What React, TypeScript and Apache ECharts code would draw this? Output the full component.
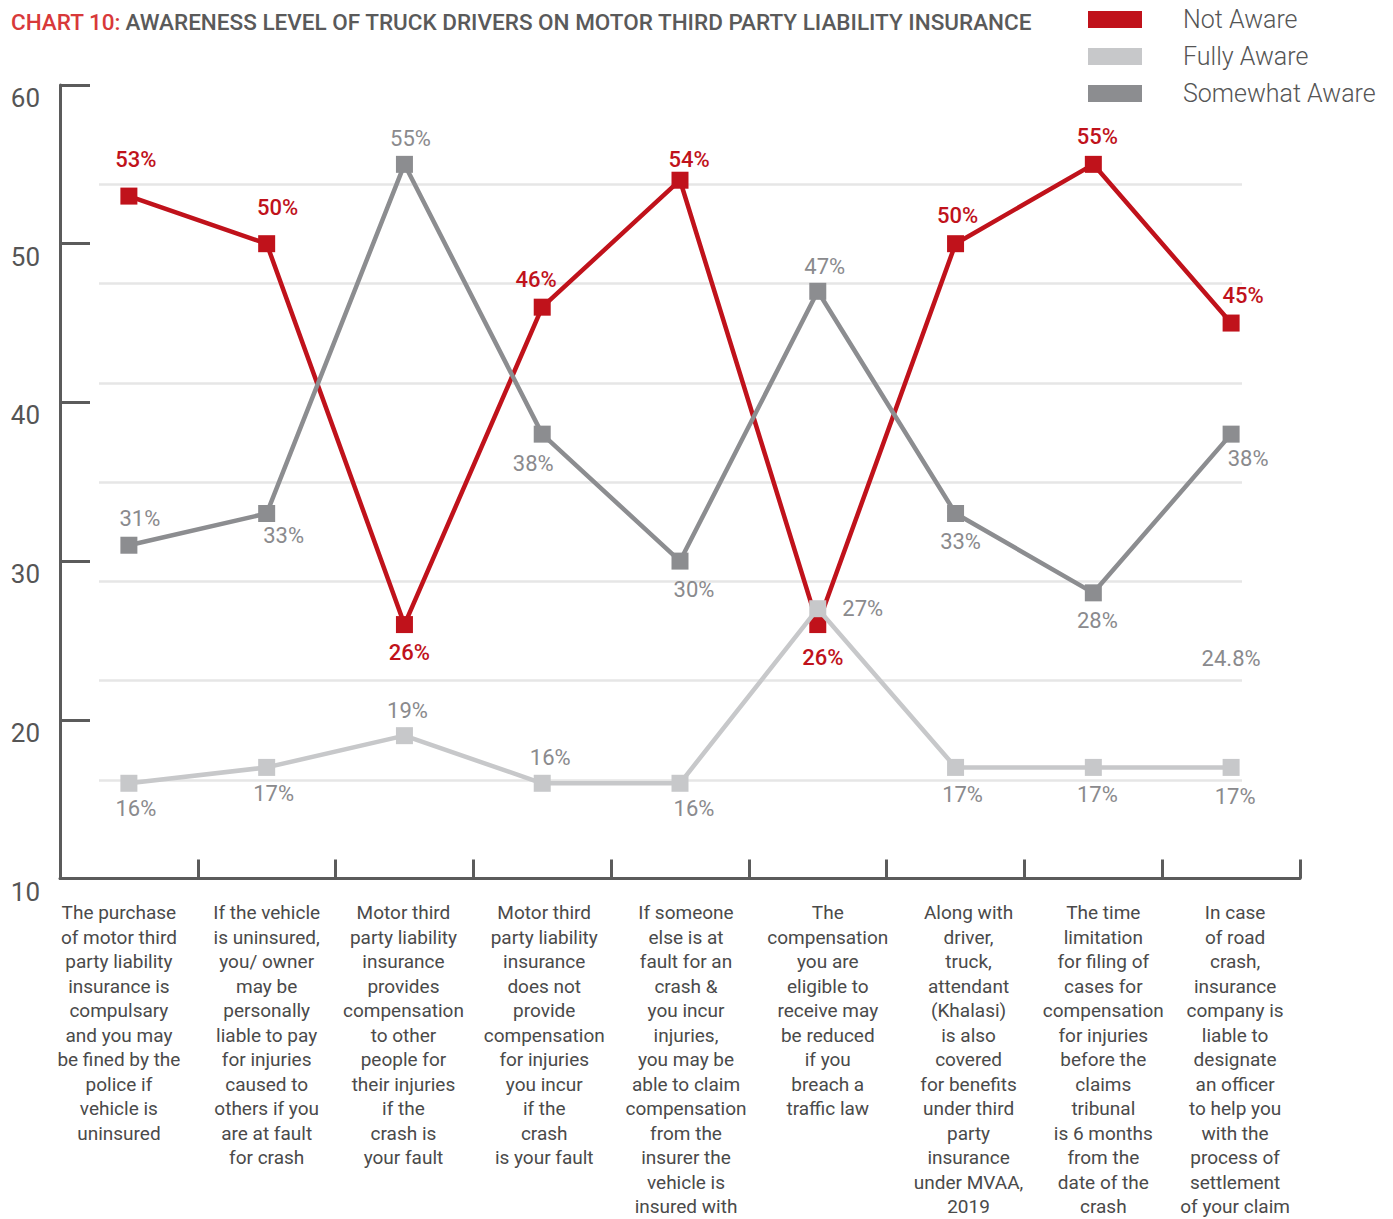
import React, { useEffect, useRef } from "react";
import * as echarts from "echarts";

const categories = [
  "The purchase\nof motor third\nparty liability\ninsurance is\ncompulsary\nand you may\nbe fined by the\npolice if\nvehicle is\nuninsured",
  "If the vehicle\nis uninsured,\nyou/ owner\nmay be\npersonally\nliable to pay\nfor injuries\ncaused to\nothers if you\nare at fault\nfor crash",
  "Motor third\nparty liability\ninsurance\nprovides\ncompensation\nto other\npeople for\ntheir injuries\nif the\ncrash is\nyour fault",
  "Motor third\nparty liability\ninsurance\ndoes not\nprovide\ncompensation\nfor injuries\nyou incur\nif the\ncrash\nis your fault",
  "If someone\nelse is at\nfault for an\ncrash &\nyou incur\ninjuries,\nyou may be\nable to claim\ncompensation\nfrom the\ninsurer the\nvehicle is\ninsured with",
  "The\ncompensation\nyou are\neligible to\nreceive may\nbe reduced\nif you\nbreach a\ntraffic law",
  "Along with\ndriver,\ntruck,\nattendant\n(Khalasi)\nis also\ncovered\nfor benefits\nunder third\nparty\ninsurance\nunder MVAA,\n2019",
  "The time\nlimitation\nfor filing of\ncases for\ncompensation\nfor injuries\nbefore the\nclaims\ntribunal\nis 6 months\nfrom the\ndate of the\ncrash",
  "In case\nof road\ncrash,\ninsurance\ncompany is\nliable to\ndesignate\nan officer\nto help you\nwith the\nprocess of\nsettlement\nof your claim",
];

const seriesNames = ["Not Aware", "Fully Aware", "Somewhat Aware"];
const notAware = [53, 50, 26, 46, 54, 26, 50, 55, 45];
const fullyAware = [16, 17, 19, 16, 16, 27, 17, 17, 17];
const somewhatAware = [31, 33, 55, 38, 30, 47, 33, 28, 38];

// floating note label near the last category
const extraNoteText = "24.8%";
const extraNoteCategory = 8;
const extraNoteValue = 23.85;

const yMin = 10;
const yMax = 60;
const yInterval = 10;

const titleLead = "CHART 10:";
const titleRest = "AWARENESS LEVEL OF TRUCK DRIVERS ON MOTOR THIRD PARTY LIABILITY INSURANCE";

// label placement (offset from point centre), layout only
const notAwareOffsets = [
  [7, -37], [11, -36], [5, 28], [-6, -28], [9, -21], [5, 33], [2, -28], [4, -28], [12, -28],
];
const fullyOffsets = [
  [7, 25], [7, 26], [3, -25], [8, -26], [14, 25], [45, 0], [7, 27], [4, 27], [4, 29],
];
const somewhatOffsets = [
  [11, -27], [17, 22], [6, -26], [-9, 29], [14, 28], [7, -25], [5, 28], [4, 28], [17, 24],
];
// horizontal shift of each category label block, layout only
const categoryLabelShift = [-10, 0, -1, 2, 6, 10, 13, 10, 4];

const RED = "#c0121b";
const LIGHT = "#c7c8ca";
const DARK = "#8c8d90";
const AXIS = "#5b5b5b";
const LABEL_GRAY = "#8a8a8d";
const FONT = "Roboto, 'Noto Sans', sans-serif";

function buildData(vals: number[], offsets: number[][]) {
  return vals.map((v, i) => ({ value: v, label: { offset: offsets[i] } }));
}

function lineSeries(name: string, vals: number[], offsets: number[][], color: string, labelColor: string, weight: number, z: number, extra: any = {}) {
  return {
    name,
    type: "line",
    data: buildData(vals, offsets),
    symbol: "rect",
    symbolSize: 17,
    z,
    lineStyle: { width: 4.5, color },
    itemStyle: { color },
    label: {
      show: true,
      position: "inside",
      formatter: "{c}%",
      color: labelColor,
      fontSize: 22,
      fontWeight: weight,
      fontFamily: FONT,
    },
    emphasis: { disabled: true },
    ...extra,
  };
}

const catRich: any = {};
categoryLabelShift.forEach((s, i) => {
  catRich["c" + i] = {
    fontSize: 19,
    lineHeight: 24.5,
    color: "#4a4a4a",
    fontFamily: FONT,
    padding: s >= 0 ? [0, 0, 0, 2 * s] : [0, -2 * s, 0, 0],
  };
});

export default function App() {
  const ref = useRef<HTMLDivElement>(null);

  useEffect(() => {
    if (!ref.current) return;
    const chart = echarts.init(ref.current, undefined, { renderer: "svg" });
    const option: any = {
      animation: false,
      backgroundColor: "#ffffff",
      textStyle: { fontFamily: FONT },
      title: {
        text: `{a|${titleLead}} {b|${titleRest}}`,
        left: 6,
        top: 5,
        textStyle: {
          rich: {
            a: { color: "#d8393a", fontSize: 22.5, fontWeight: 500, fontFamily: FONT },
            b: { color: "#5a5a5a", fontSize: 22.5, fontWeight: 500, fontFamily: FONT },
          },
        },
      },
      legend: {
        data: seriesNames,
        orient: "vertical",
        left: 1083,
        top: 2,
        itemWidth: 54,
        itemHeight: 17,
        itemGap: 12,
        icon: "rect",
        selectedMode: false,
        textStyle: {
          fontSize: 25,
          fontWeight: 300,
          color: "#555555",
          fontFamily: FONT,
          lineHeight: 25,
          padding: [0, 0, 0, 36],
        },
      },
      grid: [
        { left: 60, right: 93, top: 85, bottom: 340 },
        { left: 99, right: 151, top: 85, bottom: 340 },
      ],
      xAxis: [
        {
          type: "category",
          data: categories,
          gridIndex: 0,
          boundaryGap: true,
          axisLine: { lineStyle: { color: AXIS, width: 3 } },
          axisTick: { show: true, inside: true, length: 19, lineStyle: { color: AXIS, width: 3 } },
          axisLabel: {
            interval: 0,
            margin: 22,
            fontSize: 19,
            lineHeight: 24.5,
            color: "#4a4a4a",
            fontFamily: FONT,
            verticalAlign: "top",
            formatter: (value: string, index: number) =>
              value
                .split("\n")
                .map((l) => `{c${index}|${l}}`)
                .join("\n"),
            rich: catRich,
          },
          splitLine: { show: false },
        },
        { type: "value", gridIndex: 1, show: false, min: 0, max: 1 },
      ],
      yAxis: [
        {
          type: "value",
          gridIndex: 0,
          min: yMin,
          max: yMax,
          interval: yInterval,
          axisLine: { show: true, lineStyle: { color: AXIS, width: 3 } },
          axisTick: { show: true, inside: true, length: 30, lineStyle: { color: AXIS, width: 3 } },
          axisLabel: {
            fontSize: 26,
            color: "#555555",
            margin: 20,
            fontFamily: FONT,
            verticalAlign: "top",
          },
          splitLine: { show: false },
        },
        {
          type: "value",
          gridIndex: 1,
          min: 0,
          max: 8,
          interval: 1,
          axisLine: { show: false },
          axisTick: { show: false },
          axisLabel: { show: false },
          splitLine: {
            show: true,
            showMinLine: false,
            showMaxLine: false,
            lineStyle: { color: "#e6e6e6", width: 2.5 },
          },
        },
      ],
      series: [
        { name: "grid", type: "line", xAxisIndex: 1, yAxisIndex: 1, data: [], silent: true },
        lineSeries("Not Aware", notAware, notAwareOffsets, RED, RED, 500, 3),
        lineSeries("Somewhat Aware", somewhatAware, somewhatOffsets, DARK, LABEL_GRAY, 400, 4),
        lineSeries("Fully Aware", fullyAware, fullyOffsets, LIGHT, LABEL_GRAY, 400, 5, {
          markPoint: {
            symbol: "rect",
            symbolSize: 1,
            itemStyle: { color: "rgba(0,0,0,0)" },
            label: {
              show: true,
              position: "inside",
              formatter: () => extraNoteText,
              color: LABEL_GRAY,
              fontSize: 22,
              fontFamily: FONT,
            },
            data: [{ coord: [extraNoteCategory, extraNoteValue] }],
          },
        }),
      ],
    };
    chart.setOption(option);
    return () => chart.dispose();
  }, []);

  return (
    <div
      ref={ref}
      style={{ position: "absolute", left: 0, top: 0, width: 1393, height: 1219 }}
    />
  );
}
